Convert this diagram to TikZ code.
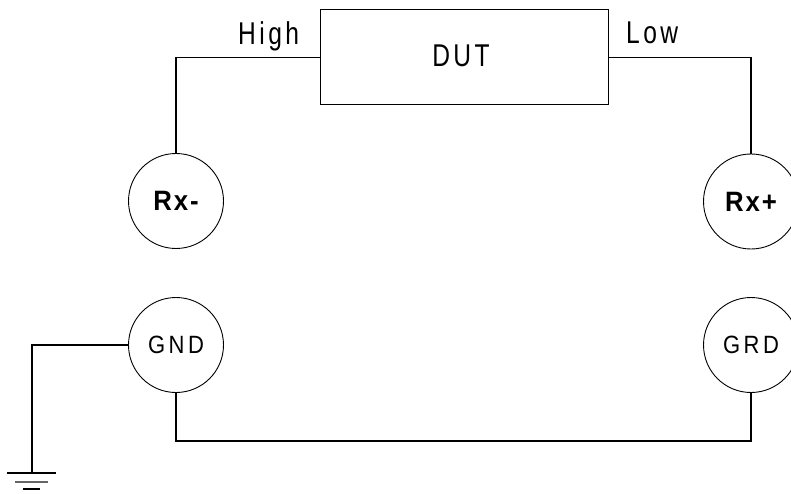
\documentclass[tikz,border=0pt]{standalone}
\usepackage{fontspec}
\setmainfont{Liberation Sans}
\newfontfamily\lblfont[FakeStretch=0.78,LetterSpace=11]{Liberation Sans}
\newfontfamily\portfont[FakeStretch=0.88,LetterSpace=14]{Liberation Sans}
\newfontfamily\lblbold[FakeStretch=0.92,LetterSpace=7]{Liberation Sans Bold}
\begin{document}
\begin{tikzpicture}[x=1pt,y=-1pt,
  wire/.style={line width=1.6pt,black},
  port/.style={circle,draw,line width=0.9pt,minimum size=95pt,inner sep=0pt},
  lbl/.style={font=\lblfont\fontsize{31.5}{31.5}\selectfont,inner sep=0pt},
  portlbl/.style={font=\portfont\fontsize{25}{25}\selectfont},
  rxlbl/.style={font=\lblbold\fontsize{28}{28}\selectfont}]
\useasboundingbox (0,0) rectangle (791,494);
\clip (0,0) rectangle (791,494);
\node[draw,line width=1pt,minimum width=288pt,minimum height=95pt,inner sep=0pt] (dut) at (464,57.5) {};
\node[lbl] (duttxt) at (461,56) {DUT};
\node[lbl,anchor=base west] (high) at (238,45) {High};
\node[lbl,anchor=base west] (low) at (626,44) {Low};
\node[port,rxlbl] (rxm) at (176,201) {Rx-};
\node[port,rxlbl] (rxp) at (751,201.5) {Rx+};
\node[port,portlbl] (gnd) at (176,345) {GND};
\node[port,portlbl] (grd) at (751,345) {GRD};
\coordinate (bl) at (176,441);
\coordinate (br) at (751,441);
\coordinate (g) at (32,473);
\coordinate (ga1) at (7,473);
\coordinate (ga2) at (56,473);
\coordinate (gb1) at (15,482);
\coordinate (gb2) at (48,482);
\coordinate (gc1) at (23,489);
\coordinate (gc2) at (40,489);
\draw[wire] (dut.west) -| (rxm.north);
\draw[wire] (dut.east) -| (rxp.north);
\draw[wire] (gnd.south) -- (bl) -- (br) -- (grd.south);
\draw[wire] (gnd.west) -| (g);
\draw[line width=1.4pt] (ga1) -- (ga2);
\draw[line width=1.4pt,gray!80!black] (gb1) -- (gb2);
\draw[line width=1.4pt] (gc1) -- (gc2);
\end{tikzpicture}
\end{document}
